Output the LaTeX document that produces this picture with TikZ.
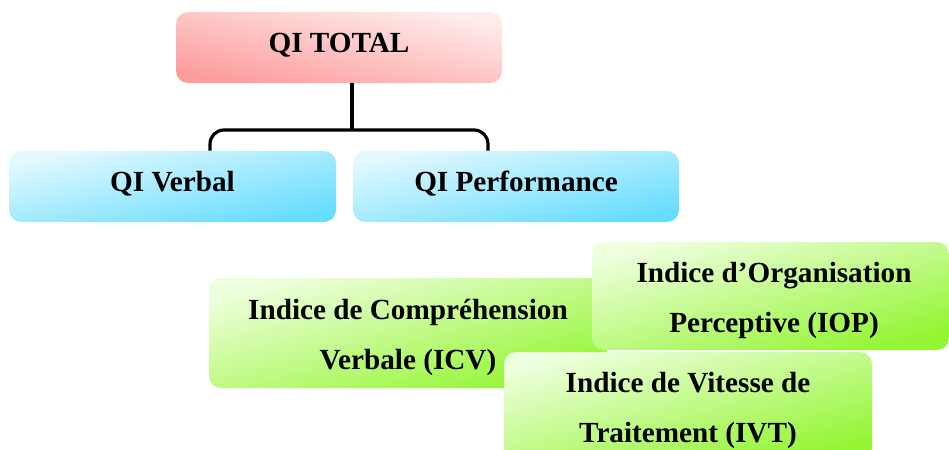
\documentclass[tikz,border=0pt]{standalone}
\usepackage{fontspec}
\setmainfont{Liberation Serif}
\usetikzlibrary{positioning}

\definecolor{pinkA}{HTML}{FFEDED}
\definecolor{pinkB}{HTML}{FC9C9C}
\definecolor{blueA}{HTML}{E4F9FF}
\definecolor{blueB}{HTML}{66DCFF}
\definecolor{greenA}{HTML}{EEFFDD}
\definecolor{greenB}{HTML}{93F533}

\tikzset{
  box/.style={rounded corners=6pt, align=center, inner sep=0pt,
    font=\fontsize{14.6}{25}\selectfont\bfseries},
  oneline/.style={text height=4.8pt, text depth=0pt},
  twoline/.style={text height=36.5pt, text depth=0pt},
  pinkbox/.style={box, oneline, top color=pinkA, bottom color=pinkB, shading angle=-12},
  bluebox/.style={box, oneline, top color=blueA, bottom color=blueB, shading angle=12},
  greenbox/.style={box, twoline, top color=greenA, bottom color=greenB, shading angle=15},
  link/.style={line width=1.6pt, rounded corners=7pt}
}

\begin{document}
\begin{tikzpicture}[x=0.5pt,y=-0.5pt]
    \useasboundingbox (0,0) rectangle (949,450);
    \clip (0,0) rectangle (949,450);
    % top and second row
    \node[pinkbox, minimum width=163pt, minimum height=35.5pt] (total) at (339,47.5) {QI TOTAL};
    \node[bluebox, minimum width=163.5pt, minimum height=35.5pt] (verbal) at (172.5,186.5) {QI Verbal};
    \node[bluebox, minimum width=163pt, minimum height=35.5pt] (perf) at (516,186.5) {QI Performance};
    \coordinate (j) at (352,130);
    \draw[link] (total.south -| j) -- (j);
    \draw[link] ([xshift=18.75pt]verbal.north) |- (j) -| ([xshift=-14pt]perf.north);
    % indices
    \node[greenbox, minimum width=199pt, minimum height=55pt] (icv) at (408,333) {Indice de Compréhension\\Verbale (ICV)};
    \node[greenbox, minimum width=178.5pt, minimum height=54pt] (iop) at (770.5,296) {\hspace*{3.5pt}Indice d’Organisation\\\hspace*{3.5pt}Perceptive (IOP)};
    \node[greenbox, minimum width=184pt, minimum height=54pt] (ivt) at (688,406) {Indice de Vitesse de\\Traitement (IVT)};
\end{tikzpicture}
\end{document}
